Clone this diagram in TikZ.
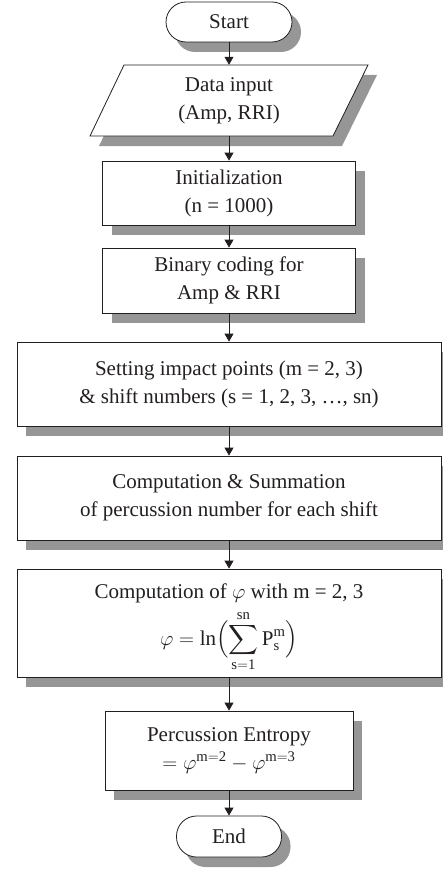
\documentclass[tikz,border=0pt]{standalone}
\usepackage{amsmath}
\usepackage{fontspec}
\setmainfont{Liberation Serif}
\usetikzlibrary{arrows.meta,shadows}
\definecolor{ink}{RGB}{35,31,32}
\definecolor{shadowgray}{RGB}{150,150,150}
\begin{document}
\begin{tikzpicture}[
  font=\fontsize{21}{28}\selectfont,
  every node/.style={text=ink},
  shd/.style={drop shadow={shadow xshift=9pt, shadow yshift=-10pt, fill=shadowgray, opacity=1}},
  box/.style={draw=ink, line width=0.8pt, fill=white, align=center, inner sep=0pt, shd},
  term/.style={box, rounded corners=20pt},
  arr/.style={draw=ink, line width=0.8pt, -{Triangle[length=8pt,width=9pt]}}
]
\useasboundingbox (0,0) rectangle (443pt,-872pt);
\begin{scope}[x=1pt,y=1pt]
% parallelogram (drawn directly)
\fill[shadowgray] (133,-75) -- (377,-75) -- (342,-146) -- (99,-146) -- cycle;
\filldraw[draw=ink, fill=white, line width=0.8pt] (124,-65) -- (368,-65) -- (333,-136) -- (90,-136) -- cycle;

\node[term, minimum width=126pt, minimum height=40pt] (start) at (229,-22) {Start};
\node[align=center, inner sep=0pt, minimum width=243pt, minimum height=71pt] (input) at (229,-100.5) {Data input\\(Amp, RRI)};
\node[box, minimum width=253pt, minimum height=64pt] (init) at (229,-193) {Initialization\\(n = 1000)};
\node[box, minimum width=253pt, minimum height=65pt] (bin) at (229,-280.5) {Binary coding for\\Amp \& RRI};
\node[box, minimum width=424pt, minimum height=84pt] (set) at (229,-384) {Setting impact points (m = 2, 3)\\\& shift numbers (s = 1, 2, 3, …, sn)};
\node[box, minimum width=424pt, minimum height=84pt] (comp) at (229,-498) {Computation \& Summation\\of percussion number for each shift};
\node[box, minimum width=424pt, minimum height=108pt] (phi) at (229,-623) {};
\node[inner sep=0pt] (phitext) at (229,-593) {Computation of $\varphi$ with m = 2, 3};
\node[inner sep=0pt, anchor=base] (phiformula) at (229,-645) {$\displaystyle\varphi = \ln\Bigl(\sum_{\mathrm{s=1}}^{\mathrm{sn}} \mathrm{P}_{\mathrm{s}}^{\mathrm{m}}\Bigr)$};
\node[box, minimum width=248pt, minimum height=79pt] (pe) at (229,-750.5) {Percussion Entropy\\$=\varphi^{\mathrm{m=2}}-\varphi^{\mathrm{m=3}}$};
\node[term, minimum width=105pt, minimum height=41pt] (end) at (229,-836.5) {End};

\draw[arr] (start) -- (input);
\draw[arr] (input) -- (init);
\draw[arr] (init) -- (bin);
\draw[arr] (bin) -- (set);
\draw[arr] (set) -- (comp);
\draw[arr] (comp) -- (phi);
\draw[arr] (phi) -- (pe);
\draw[arr] (pe) -- (end);
\end{scope}
\end{tikzpicture}
\end{document}
